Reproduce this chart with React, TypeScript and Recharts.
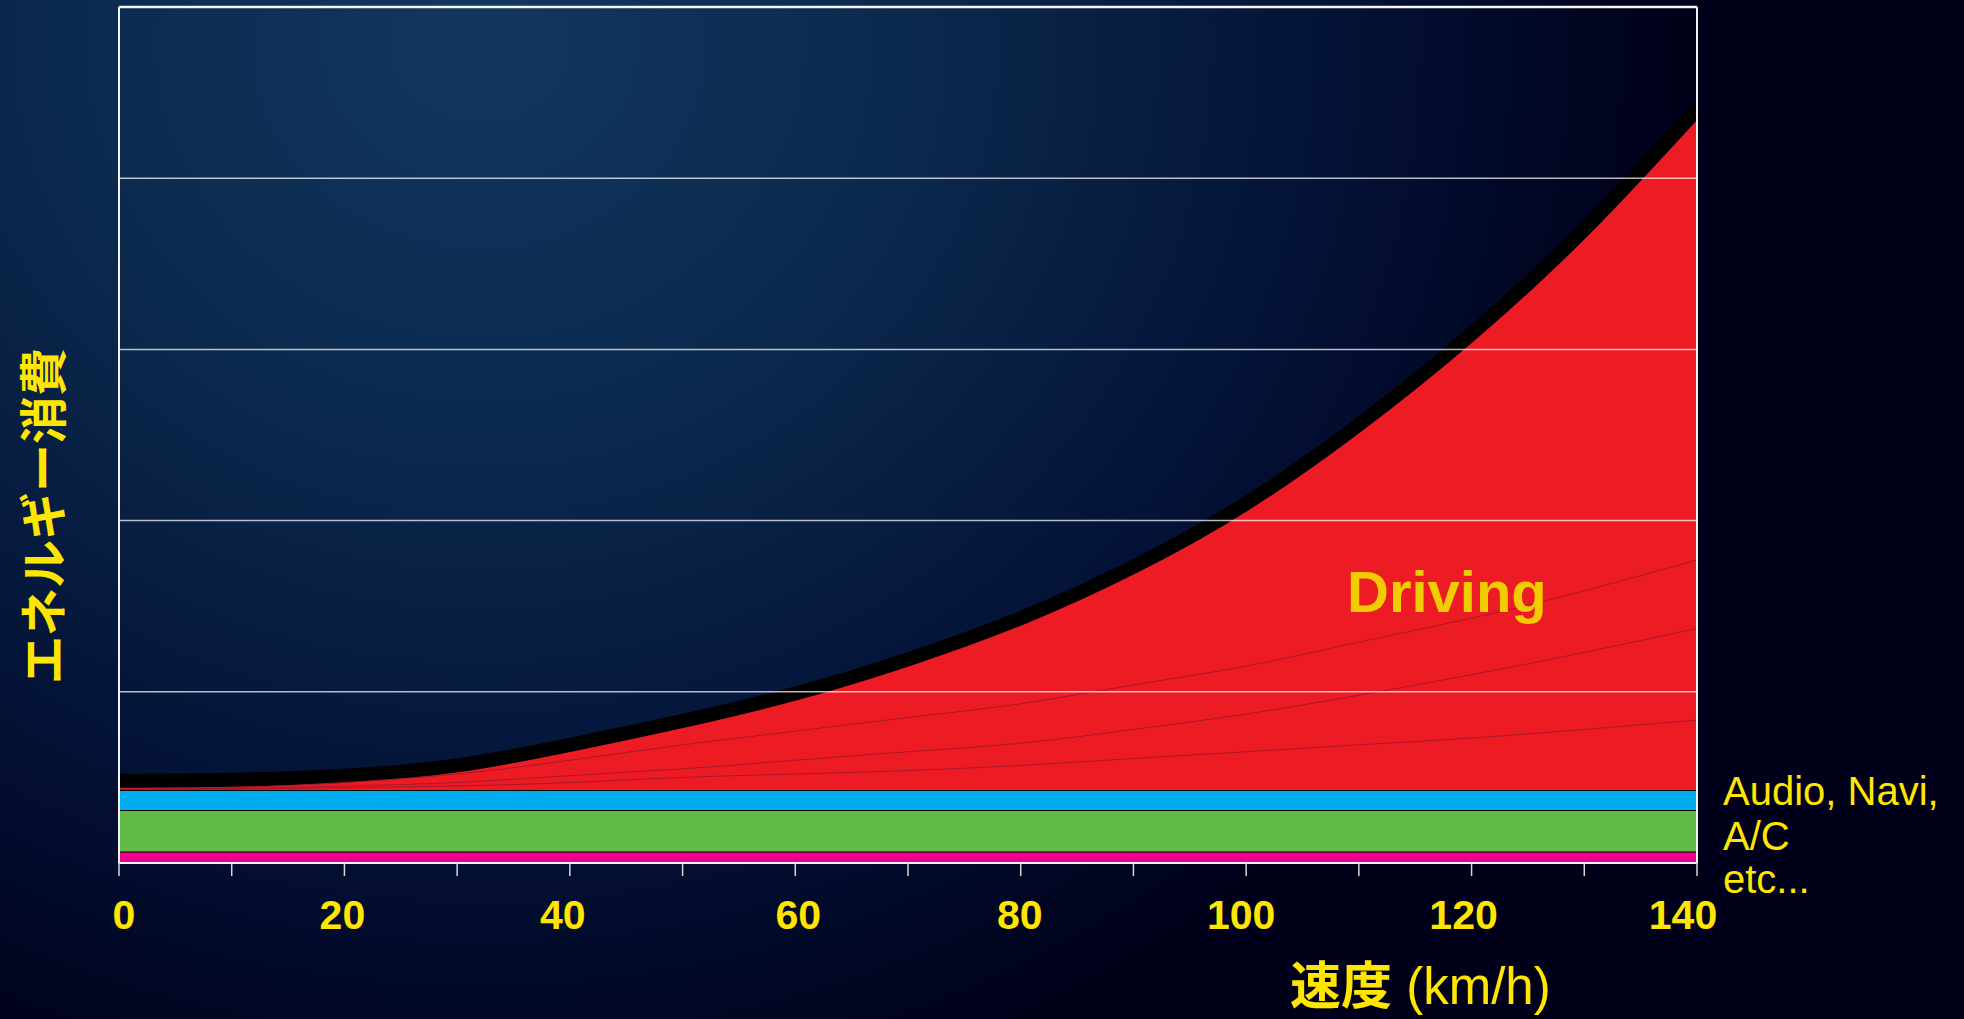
import React from 'react';
import { ComposedChart, Area, Line, XAxis, YAxis, ReferenceLine } from 'recharts';

// speed (km/h)
const speeds = [0, 10, 20, 30, 40, 50, 60, 70, 80, 90, 100, 110, 120, 130, 140];
// stacked energy consumption components (arbitrary units)
const otherLoad = [0.067, 0.067, 0.067, 0.067, 0.067, 0.067, 0.067, 0.067, 0.067, 0.067, 0.067, 0.067, 0.067, 0.067, 0.067];
const acLoad = [0.243, 0.243, 0.243, 0.243, 0.243, 0.243, 0.243, 0.243, 0.243, 0.243, 0.243, 0.243, 0.243, 0.243, 0.243];
const audioNaviLoad = [0.116, 0.116, 0.116, 0.116, 0.116, 0.116, 0.116, 0.116, 0.116, 0.116, 0.116, 0.116, 0.116, 0.116, 0.116];
const drivingLoad = [0.054, 0.06, 0.084, 0.144, 0.264, 0.404, 0.564, 0.764, 1.004, 1.304, 1.674, 2.134, 2.664, 3.274, 3.974];
// faint internal breakdown lines inside the driving area (absolute values)
const subLine1 = [0.43, 0.44, 0.47, 0.52, 0.6, 0.69, 0.77, 0.85, 0.93, 1.04, 1.15, 1.29, 1.43, 1.59, 1.77];
const subLine2 = [0.43, 0.435, 0.45, 0.47, 0.51, 0.55, 0.6, 0.65, 0.7, 0.78, 0.87, 0.98, 1.1, 1.23, 1.37];
const subLine3 = [0.43, 0.43, 0.44, 0.45, 0.47, 0.5, 0.52, 0.54, 0.57, 0.61, 0.65, 0.69, 0.73, 0.78, 0.835];

const xTicks = [0, 10, 20, 30, 40, 50, 60, 70, 80, 90, 100, 110, 120, 130, 140];
const xLabelValues = [0, 20, 40, 60, 80, 100, 120, 140];
const gridValues = [1, 2, 3, 4];
const yMinorTicks = [0.5, 1.5, 2.5, 3.5, 4.5];

const data = speeds.map((s, i) => ({
  speed: s,
  other: otherLoad[i],
  ac: acLoad[i],
  audio: audioNaviLoad[i],
  driving: drivingLoad[i],
  l1: subLine1[i],
  l2: subLine2[i],
  l3: subLine3[i],
}));

const YELLOW = '#FFE600';
// small horizontal nudges of the hand-placed tick labels (style only)
const labelNudge: Record<number, number> = { 0: 5, 20: -2, 40: -7, 60: 3, 80: -1, 100: -5, 120: -8, 140: -14 };

const XTick = (props: any) => {
  const { x, y, payload } = props;
  if (!xLabelValues.includes(payload.value)) return <g />;
  return (
    <text
      x={x + (labelNudge[payload.value] || 0)}
      y={y}
      dy="0.71em"
      textAnchor="middle"
      fill={YELLOW}
      fontSize={41}
      fontWeight="bold"
      fontFamily="'Liberation Sans', Arial, sans-serif"
    >
      {payload.value}
    </text>
  );
};

export default function App() {
  return (
    <div
      style={{
        position: 'absolute',
        left: 0,
        top: 0,
        width: 1964,
        height: 1019,
        overflow: 'hidden',
        background:
          'radial-gradient(ellipse 1200px 1100px at 480px 40px, #12375f 0%, #0b284c 38%, #041338 70%, #00001a 100%)',
      }}
    >
      <ComposedChart
        width={1964}
        height={1019}
        data={data}
        margin={{ top: 7, right: 267, bottom: 0, left: 119 }}
      >
        <XAxis
          dataKey="speed"
          type="number"
          domain={[0, 140]}
          ticks={xTicks}
          interval={0}
          height={156}
          axisLine={false}
          tickLine={{ stroke: '#d8d8d8', strokeWidth: 1.5 }}
          tickSize={13}
          tickMargin={24}
          tick={<XTick />}
        />
        <YAxis
          type="number"
          domain={[0, 5]}
          allowDataOverflow
          ticks={yMinorTicks}
          interval={0}
          mirror
          axisLine={false}
          tick={false}
          tickSize={15}
          tickLine={{ stroke: '#000', strokeWidth: 1.5 }}
        />
        <Area
          type="linear"
          dataKey="other"
          stackId="a"
          fill="#EC008C"
          fillOpacity={1}
          stroke="#000"
          strokeWidth={2}
          isAnimationActive={false}
          dot={false}
          activeDot={false}
        />
        <Area
          type="linear"
          dataKey="ac"
          stackId="a"
          fill="#62BB46"
          fillOpacity={1}
          stroke="#000"
          strokeWidth={2}
          isAnimationActive={false}
          dot={false}
          activeDot={false}
        />
        <Area
          type="linear"
          dataKey="audio"
          stackId="a"
          fill="#00AEEF"
          fillOpacity={1}
          stroke="#000"
          strokeWidth={2}
          isAnimationActive={false}
          dot={false}
          activeDot={false}
        />
        <Area
          type="natural"
          dataKey="driving"
          stackId="a"
          fill="#ED1C24"
          fillOpacity={1}
          stroke="#000"
          strokeWidth={14}
          isAnimationActive={false}
          dot={false}
          activeDot={false}
        />
        <Line type="natural" dataKey="l1" stroke="#a8172a" strokeWidth={1} dot={false} activeDot={false} isAnimationActive={false} />
        <Line type="natural" dataKey="l2" stroke="#a8172a" strokeWidth={1} dot={false} activeDot={false} isAnimationActive={false} />
        <Line type="natural" dataKey="l3" stroke="#a8172a" strokeWidth={1} dot={false} activeDot={false} isAnimationActive={false} />
        {gridValues.map((g) => (
          <ReferenceLine key={g} y={g} stroke="rgba(255,255,255,0.72)" strokeWidth={1.5} />
        ))}
        <ReferenceLine y={5} stroke="#f4f4f4" strokeWidth={2.5} />
        <ReferenceLine y={0} stroke="#f4f4f4" strokeWidth={2} />
        <ReferenceLine x={0} stroke="#f4f4f4" strokeWidth={2} />
        <ReferenceLine x={140} stroke="#f4f4f4" strokeWidth={2} />
      </ComposedChart>
      <svg
        width={1964}
        height={1019}
        style={{ position: 'absolute', left: 0, top: 0, pointerEvents: 'none' }}
      >
        <text
          transform="translate(40,516) rotate(-90)"
          textAnchor="middle"
          dominantBaseline="central"
          fill={YELLOW}
          fontSize={48}
          fontWeight={700}
          fontFamily="'Noto Sans CJK JP', sans-serif"
        >
          エネルギー消費
        </text>
        <text
          x={1347}
          y={612}
          fill="#F0CC00"
          fontSize={58}
          fontWeight="bold"
          fontFamily="'Liberation Sans', Arial, sans-serif"
        >
          Driving
        </text>
        <text x={1290} y={1004} fill={YELLOW} fontSize={51}>
          <tspan fontFamily="'Noto Sans CJK JP', sans-serif" fontWeight={700}>速度</tspan>
          <tspan fontFamily="'Liberation Sans', Arial, sans-serif"> (km/h)</tspan>
        </text>
        <text fill={YELLOW} fontSize={40} fontFamily="'Liberation Sans', Arial, sans-serif">
          <tspan x={1723} y={805}>Audio, Navi,</tspan>
          <tspan x={1723} y={850}>A/C</tspan>
          <tspan x={1723} y={893}>etc...</tspan>
        </text>
      </svg>
    </div>
  );
}
